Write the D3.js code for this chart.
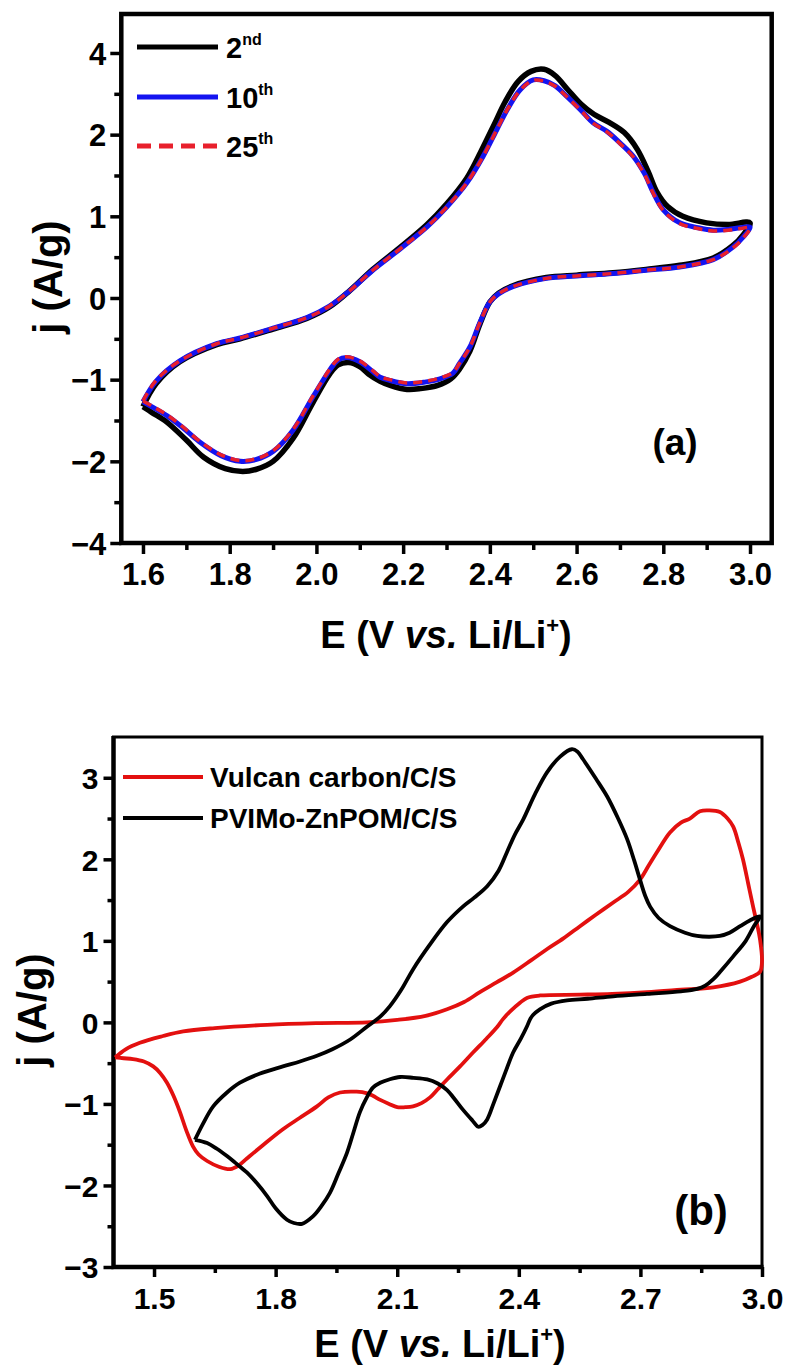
<!DOCTYPE html>
<html><head><meta charset="utf-8">
<script src="https://cdn.jsdelivr.net/npm/d3@7"></script>
<style>
body{margin:0;background:#fff}
text{font-family:"Liberation Sans",Arial,sans-serif;font-weight:bold;fill:#000}
</style>
</head><body>
<svg id="chart" width="788" height="1368"></svg>
<script>
// ---------- Panel (a) data: [E (V), j (A/g)] ----------
const aCycle2 = [[1.60,-1.33],[1.63,-1.05],[1.685,-0.78],[1.77,-0.57],[1.824,-0.50],[1.90,-0.38],[1.978,-0.25],[2.03,-0.11],[2.077,0.09],[2.13,0.35],[2.193,0.62],[2.255,0.90],[2.30,1.15],[2.347,1.47],[2.38,1.80],[2.41,2.25],[2.435,2.80],[2.465,3.30],[2.495,3.55],[2.525,3.60],[2.55,3.45],[2.58,3.10],[2.61,2.75],[2.64,2.50],[2.675,2.30],[2.71,2.05],[2.74,1.82],[2.765,1.55],[2.785,1.30],[2.81,1.12],[2.845,1.00],[2.90,0.92],[2.95,0.90],[3.00,0.92],
  [2.985,0.78],[2.96,0.64],[2.915,0.49],[2.838,0.40],[2.76,0.35],[2.684,0.31],[2.60,0.28],[2.53,0.25],[2.453,0.15],[2.42,0.06],[2.40,-0.05],[2.377,-0.32],[2.354,-0.65],[2.33,-0.87],[2.31,-0.99],[2.28,-1.07],[2.24,-1.11],[2.209,-1.12],[2.17,-1.07],[2.147,-1.02],[2.12,-0.93],[2.10,-0.84],[2.075,-0.79],[2.05,-0.82],[2.031,-0.93],[1.992,-1.28],[1.946,-1.72],[1.90,-2.00],[1.86,-2.20],[1.83,-2.25],[1.79,-2.18],[1.74,-1.95],[1.70,-1.74],[1.655,-1.52],[1.62,-1.40],[1.60,-1.33]];
const aCycle10 = [[1.60,-1.27],[1.63,-1.02],[1.685,-0.77],[1.77,-0.56],[1.824,-0.49],[1.90,-0.37],[1.978,-0.24],[2.03,-0.10],[2.077,0.09],[2.13,0.34],[2.193,0.60],[2.255,0.87],[2.30,1.11],[2.347,1.41],[2.384,1.73],[2.416,2.12],[2.44,2.61],[2.47,3.10],[2.50,3.34],[2.525,3.32],[2.55,3.20],[2.578,2.93],[2.61,2.60],[2.638,2.29],[2.67,2.08],[2.70,1.90],[2.73,1.74],[2.757,1.52],[2.776,1.30],[2.80,1.08],[2.838,0.92],[2.88,0.86],[2.915,0.83],[2.95,0.84],[2.977,0.86],[3.00,0.87],
  [2.985,0.75],[2.96,0.62],[2.915,0.47],[2.838,0.38],[2.76,0.34],[2.684,0.30],[2.60,0.27],[2.53,0.24],[2.453,0.14],[2.42,0.05],[2.40,-0.05],[2.377,-0.30],[2.354,-0.60],[2.33,-0.80],[2.315,-0.92],[2.285,-0.99],[2.25,-1.03],[2.209,-1.05],[2.17,-1.01],[2.147,-0.97],[2.13,-0.90],[2.10,-0.78],[2.07,-0.73],[2.05,-0.76],[2.031,-0.88],[1.992,-1.21],[1.946,-1.62],[1.90,-1.88],[1.86,-1.98],[1.824,-2.00],[1.78,-1.93],[1.73,-1.76],[1.69,-1.58],[1.655,-1.44],[1.62,-1.33],[1.60,-1.27]];
const aCycle25 = [[1.60,-1.26],[1.63,-1.01],[1.685,-0.77],[1.77,-0.56],[1.824,-0.49],[1.90,-0.37],[1.978,-0.24],[2.03,-0.10],[2.077,0.09],[2.13,0.34],[2.193,0.60],[2.255,0.87],[2.30,1.11],[2.347,1.41],[2.384,1.73],[2.416,2.12],[2.44,2.61],[2.47,3.09],[2.50,3.33],[2.525,3.31],[2.55,3.19],[2.578,2.92],[2.61,2.59],[2.638,2.28],[2.67,2.07],[2.70,1.89],[2.73,1.73],[2.757,1.51],[2.776,1.29],[2.80,1.07],[2.838,0.91],[2.88,0.85],[2.915,0.82],[2.95,0.83],[2.977,0.85],[3.00,0.86],
  [2.985,0.74],[2.96,0.61],[2.915,0.47],[2.838,0.38],[2.76,0.34],[2.684,0.30],[2.60,0.27],[2.53,0.24],[2.453,0.14],[2.42,0.05],[2.40,-0.05],[2.377,-0.30],[2.354,-0.60],[2.33,-0.80],[2.315,-0.91],[2.285,-0.98],[2.25,-1.02],[2.209,-1.04],[2.17,-1.00],[2.147,-0.96],[2.13,-0.89],[2.10,-0.77],[2.07,-0.72],[2.05,-0.75],[2.031,-0.87],[1.992,-1.20],[1.946,-1.61],[1.90,-1.87],[1.86,-1.97],[1.824,-1.99],[1.78,-1.92],[1.73,-1.75],[1.69,-1.57],[1.655,-1.43],[1.62,-1.32],[1.60,-1.26]];
const aXTicks = [1.6,1.8,2.0,2.2,2.4,2.6,2.8,3.0];
const aXMinor = [1.7,1.9,2.1,2.3,2.5,2.7,2.9];
const aYTicks = [-4,-2,-1,0,1,2,4];
const aYMinor = [-3,-1.5,-0.5,0.5,1.5,3];
const aLegend = [["2","nd"],["10","th"],["25","th"]];

// ---------- Panel (b) data ----------
const bVulcan = [[1.404,-0.43],[1.43,-0.33],[1.465,-0.25],[1.52,-0.17],[1.572,-0.11],[1.65,-0.07],[1.779,-0.03],[1.90,-0.01],[2.026,0.00],[2.10,0.03],[2.17,0.08],[2.223,0.16],[2.265,0.25],[2.304,0.37],[2.345,0.49],[2.386,0.61],[2.43,0.76],[2.47,0.90],[2.51,1.03],[2.551,1.18],[2.59,1.32],[2.633,1.47],[2.67,1.60],[2.699,1.75],[2.72,1.92],[2.741,2.09],[2.773,2.33],[2.80,2.45],[2.822,2.50],[2.847,2.59],[2.87,2.60],[2.896,2.58],[2.915,2.50],[2.929,2.40],[2.942,2.20],[2.953,2.00],[2.966,1.70],[2.978,1.42],[2.988,1.20],[2.995,1.02],[3.00,0.75],
  [2.995,0.62],[2.975,0.56],[2.946,0.50],[2.88,0.43],[2.80,0.40],[2.716,0.37],[2.63,0.35],[2.551,0.34],[2.452,0.33],[2.42,0.30],[2.403,0.24],[2.38,0.14],[2.361,0.04],[2.346,-0.06],[2.32,-0.20],[2.287,-0.37],[2.255,-0.54],[2.223,-0.70],[2.20,-0.82],[2.181,-0.92],[2.16,-0.99],[2.139,-1.03],[2.12,-1.04],[2.10,-1.04],[2.08,-1.00],[2.058,-0.95],[2.04,-0.90],[2.026,-0.87],[2.00,-0.85],[1.959,-0.86],[1.93,-0.92],[1.902,-1.03],[1.86,-1.17],[1.818,-1.31],[1.77,-1.50],[1.729,-1.67],[1.71,-1.75],[1.688,-1.80],[1.66,-1.77],[1.631,-1.70],[1.61,-1.62],[1.596,-1.52],[1.58,-1.33],[1.564,-1.10],[1.548,-0.90],[1.532,-0.74],[1.515,-0.62],[1.498,-0.54],[1.475,-0.48],[1.448,-0.45],[1.425,-0.44],[1.404,-0.43]];
const bPVIMo = [[1.601,-1.44],[1.62,-1.25],[1.646,-1.03],[1.68,-0.86],[1.712,-0.74],[1.76,-0.63],[1.818,-0.54],[1.86,-0.48],[1.902,-0.41],[1.94,-0.33],[1.984,-0.21],[2.026,-0.05],[2.058,0.07],[2.082,0.20],[2.11,0.40],[2.139,0.65],[2.18,0.95],[2.223,1.23],[2.262,1.42],[2.29,1.53],[2.322,1.67],[2.35,1.86],[2.371,2.09],[2.39,2.30],[2.411,2.49],[2.44,2.80],[2.47,3.07],[2.502,3.26],[2.531,3.35],[2.545,3.32],[2.558,3.23],[2.59,2.99],[2.618,2.77],[2.645,2.50],[2.667,2.25],[2.685,1.98],[2.699,1.75],[2.712,1.55],[2.724,1.42],[2.745,1.28],[2.773,1.18],[2.81,1.10],[2.84,1.06],[2.87,1.05],[2.896,1.06],[2.92,1.10],[2.946,1.18],[2.97,1.25],[2.995,1.30],
  [2.98,1.18],[2.96,1.00],[2.929,0.81],[2.90,0.64],[2.88,0.53],[2.86,0.45],[2.84,0.41],[2.80,0.38],[2.716,0.35],[2.633,0.32],[2.57,0.29],[2.519,0.27],[2.48,0.23],[2.452,0.16],[2.435,0.09],[2.428,0.04],[2.42,-0.05],[2.405,-0.20],[2.386,-0.37],[2.37,-0.57],[2.354,-0.78],[2.338,-0.99],[2.322,-1.19],[2.31,-1.26],[2.30,-1.28],[2.285,-1.20],[2.262,-1.07],[2.24,-0.93],[2.223,-0.83],[2.20,-0.75],[2.174,-0.70],[2.14,-0.68],[2.107,-0.67],[2.08,-0.70],[2.058,-0.74],[2.04,-0.80],[2.025,-0.92],[2.008,-1.10],[1.992,-1.35],[1.976,-1.60],[1.955,-1.85],[1.934,-2.09],[1.912,-2.26],[1.892,-2.38],[1.865,-2.47],[1.845,-2.46],[1.828,-2.42],[1.80,-2.28],[1.779,-2.13],[1.755,-1.98],[1.729,-1.84],[1.70,-1.72],[1.68,-1.64],[1.655,-1.55],[1.631,-1.48],[1.601,-1.44]];
const bXTicks = [1.5,1.8,2.1,2.4,2.7,3.0];
const bXMinor = [1.65,1.95,2.25,2.55,2.85];
const bYTicks = [-3,-2,-1,0,1,2,3];
const bYMinor = [-2.5,-1.5,-0.5,0.5,1.5,2.5];
const bLegend = ["Vulcan carbon/C/S","PVIMo-ZnPOM/C/S"];

const svg = d3.select("#chart");
const curve = d3.curveCatmullRom.alpha(0.5);

function xTitle(g, x, y) {
  const t = g.append("text").attr("x", x).attr("y", y).attr("text-anchor","middle").attr("font-size", 38);
  t.append("tspan").text("E (V ");
  t.append("tspan").attr("font-style","italic").text("vs.");
  t.append("tspan").text(" Li/Li");
  t.append("tspan").attr("font-size", 22).attr("dy", -15).text("+");
  t.append("tspan").attr("dy", 15).text(")");
}
function yTitle(g, x, y) {
  g.append("text").attr("transform", `translate(${x},${y}) rotate(-90)`)
    .attr("text-anchor","middle").attr("font-size", 40).text("j (A/g)");
}
function styleAxis(g, w) {
  g.select(".domain").remove();
  g.selectAll(".tick line").attr("stroke","#000").attr("stroke-width", w);
  g.selectAll(".tick text").style("font-family",'"Liberation Sans",Arial,sans-serif').style("font-weight","bold");
}

// ================= Panel (a) =================
{
  const L = 121.3, R = 771.7, T = 14, B = 543, u = 81.67;
  const x = d3.scaleLinear().domain([1.55, 3.05]).range([L, R]);
  const y = d3.scaleLinear().domain([-4, -2, 2, 4]).range([B, B - u, B - 5*u, B - 6*u]);
  const g = svg.append("g");

  const ax = g.append("g").attr("transform", `translate(0,${B})`)
    .call(d3.axisBottom(x).tickValues(aXTicks).tickSize(11).tickPadding(9).tickFormat(d3.format(".1f")));
  ax.selectAll("text").attr("font-size", 31);
  styleAxis(ax, 3.5);
  const axm = g.append("g").attr("transform", `translate(0,${B})`)
    .call(d3.axisBottom(x).tickValues(aXMinor).tickSize(7).tickFormat(""));
  styleAxis(axm, 3.5);

  const ay = g.append("g").attr("transform", `translate(${L},0)`)
    .call(d3.axisLeft(y).tickValues(aYTicks).tickSize(11).tickPadding(4).tickFormat(d3.format("d")));
  ay.selectAll("text").attr("font-size", 31).attr("dy", "0.36em");
  styleAxis(ay, 3.5);
  const aym = g.append("g").attr("transform", `translate(${L},0)`)
    .call(d3.axisLeft(y).tickValues(aYMinor).tickSize(7).tickFormat(""));
  styleAxis(aym, 3.5);

  g.append("rect").attr("x", L).attr("y", T).attr("width", R - L).attr("height", B - T)
    .attr("fill","none").attr("stroke","#000").attr("stroke-width", 4.5);

  const line = d3.line().x(d => x(d[0])).y(d => y(d[1])).curve(curve);
  g.append("path").datum(aCycle2).attr("d", line).attr("fill","none").attr("stroke","#000").attr("stroke-width",5.5).attr("stroke-linejoin","round");
  g.append("path").datum(aCycle10).attr("d", line).attr("fill","none").attr("stroke","#1414f0").attr("stroke-width",5).attr("stroke-linejoin","round");
  g.append("path").datum(aCycle25).attr("d", line).attr("fill","none").attr("stroke","#e8202c").attr("stroke-width",3.5).attr("stroke-dasharray","9,6");

  // legend
  const lg = g.append("g");
  const lx0 = 137, lx1 = 218, ly = [47, 97, 146];
  const ls = [{c:"#000",d:null},{c:"#1414f0",d:null},{c:"#e8202c",d:"14,8"}];
  aLegend.forEach((lab, i) => {
    const l = lg.append("line").attr("x1", lx0).attr("x2", lx1).attr("y1", ly[i]).attr("y2", ly[i])
      .attr("stroke", ls[i].c).attr("stroke-width", 5);
    if (ls[i].d) l.attr("stroke-dasharray", ls[i].d);
    const t = lg.append("text").attr("x", 226).attr("y", ly[i] + 11).attr("font-size", 29);
    t.append("tspan").text(lab[0]);
    t.append("tspan").attr("font-size", 16).attr("dy", -13).text(lab[1]);
  });

  g.append("text").attr("x", 675).attr("y", 455).attr("text-anchor","middle").attr("font-size", 37).text("(a)");
  xTitle(g, 446, 648);
  yTitle(g, 62, 277);
}

// ================= Panel (b) =================
{
  const L = 113.5, R = 762, T = 737, B = 1267;
  const x = d3.scaleLinear().domain([1.4, 3.0]).range([L, R]);
  const y = d3.scaleLinear().domain([-3, 3.5]).range([B, T]);
  const g = svg.append("g");

  const ax = g.append("g").attr("transform", `translate(0,${B})`)
    .call(d3.axisBottom(x).tickValues(bXTicks).tickSize(10).tickPadding(11).tickFormat(d3.format(".1f")));
  ax.selectAll("text").attr("font-size", 30);
  styleAxis(ax, 3.5);
  const axm = g.append("g").attr("transform", `translate(0,${B})`)
    .call(d3.axisBottom(x).tickValues(bXMinor).tickSize(6).tickFormat(""));
  styleAxis(axm, 3.5);

  const ay = g.append("g").attr("transform", `translate(${L},0)`)
    .call(d3.axisLeft(y).tickValues(bYTicks).tickSize(10).tickPadding(5).tickFormat(d3.format("d")));
  ay.selectAll("text").attr("font-size", 30).attr("dy", "0.36em");
  styleAxis(ay, 3.5);
  const aym = g.append("g").attr("transform", `translate(${L},0)`)
    .call(d3.axisLeft(y).tickValues(bYMinor).tickSize(6).tickFormat(""));
  styleAxis(aym, 3.5);

  // frame: thin top/right, thick left/bottom
  g.append("path").attr("d", `M${L},${B}V${T}H${R}V${B}`).attr("fill","none").attr("stroke","#000").attr("stroke-width",3);
  g.append("path").attr("d", `M${L},${T-1}V${B}H${R+1.5}`).attr("fill","none").attr("stroke","#000").attr("stroke-width",4.5);

  const line = d3.line().x(d => x(d[0])).y(d => y(d[1])).curve(curve);
  g.append("path").datum(bVulcan).attr("d", line).attr("fill","none").attr("stroke","#e3100f").attr("stroke-width",3.8).attr("stroke-linejoin","round");
  g.append("path").datum(bPVIMo).attr("d", line).attr("fill","none").attr("stroke","#000").attr("stroke-width",3.8).attr("stroke-linejoin","round");

  const lc = ["#e3100f", "#000"], ly = [777, 818];
  bLegend.forEach((lab, i) => {
    g.append("line").attr("x1", 123).attr("x2", 203).attr("y1", ly[i]).attr("y2", ly[i])
      .attr("stroke", lc[i]).attr("stroke-width", 4);
    g.append("text").attr("x", 210).attr("y", ly[i] + 10).attr("font-size", 28).text(lab);
  });

  g.append("text").attr("x", 701).attr("y", 1225).attr("text-anchor","middle").attr("font-size", 42).text("(b)");
  xTitle(g, 440, 1357);
  yTitle(g, 46, 1010);
}
</script>
</body></html>
